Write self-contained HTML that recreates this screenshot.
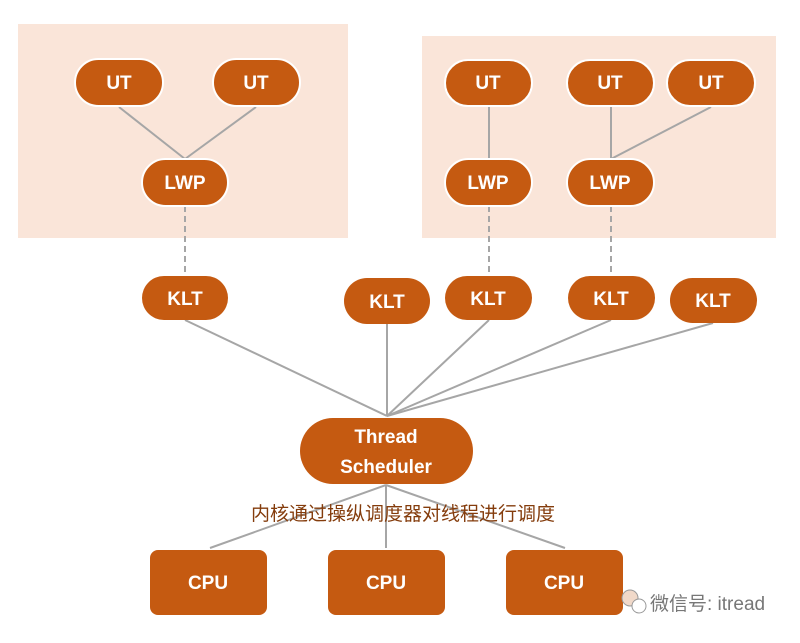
<!DOCTYPE html>
<html><head><meta charset="utf-8"><style>
body{margin:0;background:#fff;}
svg text{font-family:"Liberation Sans","Noto Sans CJK SC",sans-serif;}
</style></head><body>
<svg width="800" height="638" viewBox="0 0 800 638" xmlns="http://www.w3.org/2000/svg">
<rect x="18" y="24" width="330" height="214" fill="#fae5d9"/>
<rect x="422" y="36" width="354" height="202" fill="#fae5d9"/>
<g stroke="#a6a6a6" stroke-width="2" fill="none">
<line x1="119" y1="107" x2="185" y2="159"/>
<line x1="256" y1="107" x2="185" y2="159"/>
<line x1="489" y1="107" x2="489" y2="159"/>
<line x1="611" y1="107" x2="611" y2="159"/>
<line x1="711" y1="107" x2="611" y2="159"/>
<g stroke-dasharray="6,4">
<line x1="185" y1="206" x2="185" y2="276"/>
<line x1="489" y1="206" x2="489" y2="276"/>
<line x1="611" y1="206" x2="611" y2="276"/>
</g>
<line x1="185" y1="320" x2="387" y2="416"/>
<line x1="387" y1="324" x2="387" y2="416"/>
<line x1="489" y1="320" x2="387" y2="416"/>
<line x1="611" y1="320" x2="387" y2="416"/>
<line x1="713" y1="323" x2="387" y2="416"/>
<line x1="386" y1="485" x2="210" y2="548"/>
<line x1="386" y1="485" x2="386" y2="548"/>
<line x1="386" y1="485" x2="565" y2="548"/>
</g>
<g fill="#c55a11" stroke="#fff" stroke-width="2">
<rect x="75" y="59" width="88" height="47" rx="23.5"/>
<rect x="213" y="59" width="87" height="47" rx="23.5"/>
<rect x="142" y="159" width="86" height="47" rx="23.5"/>
<rect x="445" y="60" width="87" height="46" rx="23"/>
<rect x="567" y="60" width="87" height="46" rx="23"/>
<rect x="667" y="60" width="88" height="46" rx="23"/>
<rect x="445" y="159" width="87" height="47" rx="23.5"/>
<rect x="567" y="159" width="87" height="47" rx="23.5"/>
</g>
<g fill="#c55a11">
<rect x="142" y="276" width="86" height="44" rx="22"/>
<rect x="344" y="278" width="86" height="46" rx="23"/>
<rect x="445" y="276" width="87" height="44" rx="22"/>
<rect x="568" y="276" width="87" height="44" rx="22"/>
<rect x="670" y="278" width="87" height="45" rx="22.5"/>
<rect x="300" y="418" width="173" height="66" rx="33"/>
<rect x="150" y="550" width="117" height="65" rx="8"/>
<rect x="328" y="550" width="117" height="65" rx="8"/>
<rect x="506" y="550" width="117" height="65" rx="8"/>
</g>
<g fill="#fff" font-size="19" font-weight="bold" text-anchor="middle">
<text x="119" y="89">UT</text>
<text x="256" y="89">UT</text>
<text x="185" y="189">LWP</text>
<text x="488" y="89">UT</text>
<text x="610" y="89">UT</text>
<text x="711" y="89">UT</text>
<text x="488" y="189">LWP</text>
<text x="610" y="189">LWP</text>
<text x="185" y="305">KLT</text>
<text x="387" y="308">KLT</text>
<text x="488" y="305">KLT</text>
<text x="611" y="305">KLT</text>
<text x="713" y="307">KLT</text>
<text x="386" y="443">Thread</text>
<text x="386" y="473">Scheduler</text>
<text x="208" y="589">CPU</text>
<text x="386" y="589">CPU</text>
<text x="564" y="589">CPU</text>
</g>
<text x="403" y="520" font-size="19" fill="#843c0c" text-anchor="middle">内核通过操纵调度器对线程进行调度</text>
<circle cx="630" cy="598" r="8" fill="#f1d9c9" stroke="#999" stroke-width="1"/>
<circle cx="639" cy="606" r="7" fill="#fff" stroke="#999" stroke-width="1"/>
<text x="650" y="610" font-size="19" fill="#777">微信号: itread</text>
</svg>
</body></html>
